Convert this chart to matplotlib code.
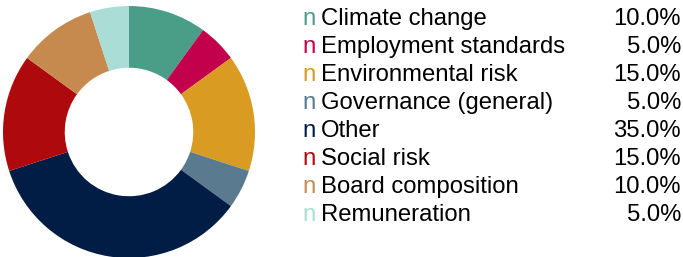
import matplotlib.pyplot as plt

# data
labels = ["Climate change", "Employment standards", "Environmental risk",
          "Governance (general)", "Other", "Social risk",
          "Board composition", "Remuneration"]
shares = [10.0, 5.0, 15.0, 5.0, 35.0, 15.0, 10.0, 5.0]
colors = ["#4a9e87", "#c2004b", "#da9b22", "#5a7a90",
          "#011c45", "#ae0a0e", "#c68a4e", "#a9ddd5"]

W, H = 683, 257
fig = plt.figure(figsize=(W / 100, H / 100), dpi=100)
plt.rcParams['font.family'] = ['Liberation Sans', 'DejaVu Sans']

# donut: centre ~ (129, 132) px, outer radius ~126 px
cx, cy, r = 129, 132, 126
ax = fig.add_axes([(cx - r) / W, 1 - (cy + r) / H, 2 * r / W, 2 * r / H])
ax.pie(shares, colors=colors, startangle=90, counterclock=False,
       wedgeprops=dict(width=0.49, linewidth=0))
ax.set_aspect('equal')
ax.set_xlim(-1, 1)
ax.set_ylim(-1, 1)

# legend rows
y0, dy = 19, 28
fs = 17.2
for i, (lab, val, col) in enumerate(zip(labels, shares, colors)):
    y = 1 - (y0 + i * dy) / H
    fig.text(302 / W, y, "n", color=col, fontsize=fs, va='center', ha='left')
    fig.text(321 / W, y, lab, color='black', fontsize=fs, va='center', ha='left')
    fig.text(681 / W, y, f"{val:.1f}%", color='black', fontsize=fs,
             va='center', ha='right')

plt.savefig("out.png", dpi=100)
